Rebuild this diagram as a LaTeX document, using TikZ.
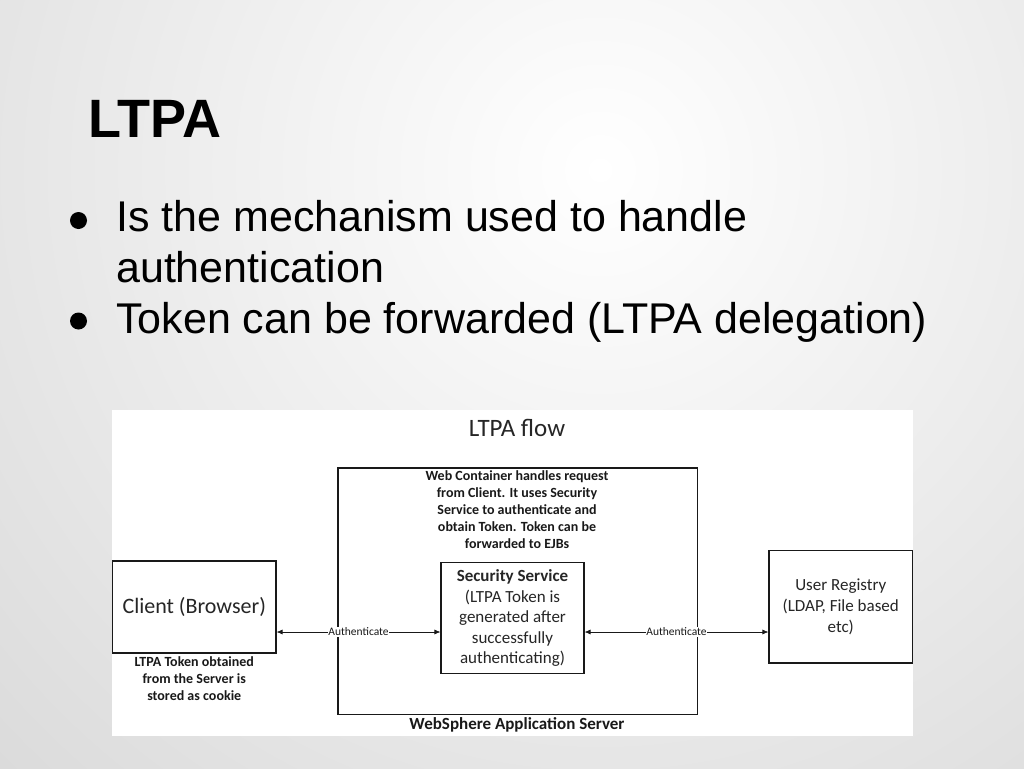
\documentclass[tikz,border=0pt]{standalone}
\usepackage{fontspec}
\setmainfont{Liberation Sans}
\newfontfamily\diagfont{Carlito}
\usetikzlibrary{positioning,arrows.meta}

\tikzset{
  box/.style={draw=black!90, line width=1.1pt, fill=white, inner sep=2pt, align=center, text=black!85},
  boldnote/.style={font=\diagfont\bfseries\fontsize{14}{17}\selectfont, align=center, text=black!90, inner sep=0pt},
  authlabel/.style={font=\diagfont\fontsize{11.5}{13}\selectfont, fill=white, inner sep=0.5pt, text=black!90},
  link/.style={<->, >={Latex[length=6pt,width=5pt]}, line width=0.7pt, draw=black!90},
  dot/.style={circle, fill=black, minimum size=17pt, inner sep=0pt}
}

\begin{document}
\begin{tikzpicture}[x=1pt, y=-1pt, font=\fontsize{43}{51}\selectfont]

\useasboundingbox (0,0) rectangle (1024,768);
\begin{scope}
\clip (0,0) rectangle (1024,768);
\shade[inner color=white, outer color=black!25] (600,170) circle (1500);
\end{scope}

% slide text
\node[anchor=base west, inner sep=0pt, font=\bfseries\fontsize{54}{60}\selectfont] (title) at (88,137) {LTPA};

\node[dot] (dot1) at (78.5,220.5) {};
\node[anchor=base west, inner sep=0pt] (line1) at (116,231) {Is the mechanism used to handle};
\node[anchor=base west, inner sep=0pt] (line2) at (116,282) {authentication};
\node[dot] (dot2) at (78.5,321) {};
\node[anchor=base west, inner sep=0pt] (line3) at (116,333) {Token can be forwarded (LTPA delegation)};

% diagram
\fill[white] (112,410) rectangle (913,736);

\node[font=\diagfont\fontsize{25}{28}\selectfont, text=black!85] (flowtitle) at (517,428) {LTPA flow};

\node[box, minimum width=359.5pt, minimum height=246.5pt] (webbox) at (517.75,591.25) {};
\node[boldnote] (container) at (517,510) {Web Container handles request\\from Client. It uses Security\\Service to authenticate and\\obtain Token. Token can be\\forwarded to EJBs};
\node[font=\diagfont\bfseries\fontsize{17}{20}\selectfont, text=black!90] (wasname) at (517,725) {WebSphere Application Server};

\node[box, minimum width=143pt, minimum height=111pt, font=\diagfont\fontsize{17}{20.5}\selectfont] (secbox) at (512.5,618)
  {\textbf{Security Service}\\(LTPA Token is\\generated after\\successfully\\authenticating)};

\node[box, minimum width=163.5pt, minimum height=92pt, font=\diagfont\fontsize{22}{26}\selectfont] (client) at (194.25,607) {Client (Browser)};
\node[boldnote, below=3pt of client] (clientnote) {LTPA Token obtained\\from the Server is\\stored as cookie};

\node[box, minimum width=143.5pt, minimum height=112.5pt, font=\diagfont\fontsize{17}{21}\selectfont] (registry) at (840.75,606.75)
  {User Registry\\(LDAP, File based\\etc)};

\draw[link] ([yshift=-25pt]client.east) -- node[authlabel] {Authenticate} ([yshift=-14pt]secbox.west);
\draw[link] ([yshift=-14pt]secbox.east) -- node[authlabel] {Authenticate} ([yshift=-25.25pt]registry.west);

\end{tikzpicture}
\end{document}
